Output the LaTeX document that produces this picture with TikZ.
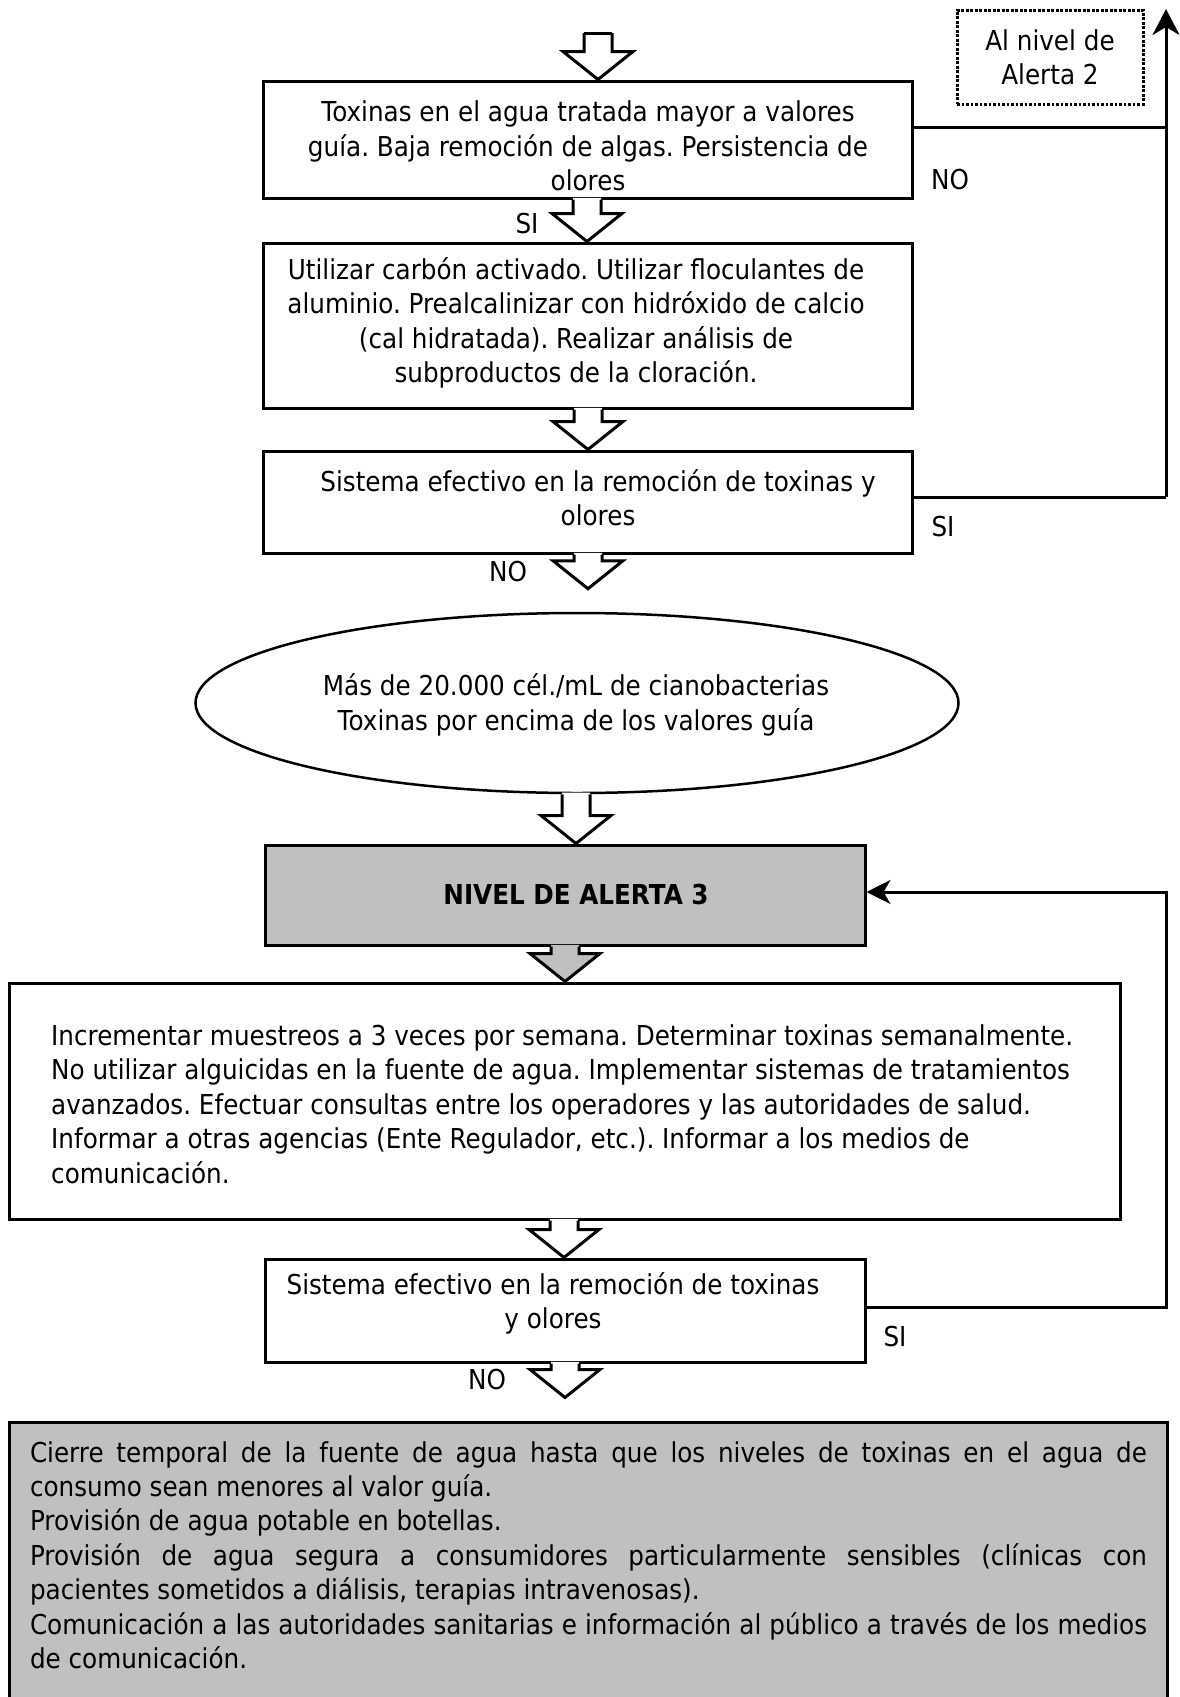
\documentclass[tikz,border=0pt]{standalone}
\usepackage{fontspec}
\setmainfont{DejaVu Sans}[FakeStretch=0.9]
\usetikzlibrary{shapes.geometric,arrows.meta,calc}
\definecolor{boxgray}{RGB}{192,192,192}
\frenchspacing
\tikzset{
  box/.style={draw, line width=3pt, inner sep=0pt},
  txt/.style={font=\fontsize{27.4pt}{34.4pt}\selectfont\frenchspacing, align=center, inner sep=0pt},
  barrow/.style={draw, line width=3pt, line join=miter},
  conn/.style={draw, line width=3pt},
  tip/.style={-{Stealth[length=26pt,width=27pt,inset=8pt]}},
}
\newcommand\blockarrow[4][white]{%
  \fill[#1] let \p1=(#2), \p2=(#3) in
    ({#4pt-14pt},\y1+1.6pt) -- ({#4pt-14pt},\y2+28pt) -- ({#4pt-35pt},\y2+28pt) -- ({#4pt},\y2)
    -- ({#4pt+35pt},\y2+28pt) -- ({#4pt+14pt},\y2+28pt) -- ({#4pt+14pt},\y1+1.6pt) -- cycle;
  \draw[barrow] let \p1=(#2), \p2=(#3) in
    ({#4pt-14pt},\y1) -- ({#4pt-14pt},\y2+28pt) -- ({#4pt-35pt},\y2+28pt) -- ({#4pt},\y2)
    -- ({#4pt+35pt},\y2+28pt) -- ({#4pt+14pt},\y2+28pt) -- ({#4pt+14pt},\y1);
}
\begin{document}
\begin{tikzpicture}[x=1pt,y=-1pt]
\useasboundingbox (0,0) rectangle (1179,1697);
\clip (0,0) rectangle (1179,1697);
\fill[white] (0,0) rectangle (1179,1697);

% boxes
\node[box, minimum width=649pt, minimum height=117pt] (b1) at (587.5,139.5) {};
\node[box, minimum width=649pt, minimum height=165pt] (b2) at (587.5,325.5) {};
\node[box, minimum width=649pt, minimum height=102pt] (b3) at (587.5,502) {};
\node[ellipse, draw, line width=2.5pt, minimum width=763pt, minimum height=180pt, inner sep=0pt] (ell) at (577,703) {};
\node[box, fill=boxgray, minimum width=600pt, minimum height=100pt] (niv) at (565,895) {};
\node[box, minimum width=1111pt, minimum height=236pt] (big) at (564.5,1101) {};
\node[box, minimum width=600pt, minimum height=103pt] (b5) at (565,1310.5) {};
\node[box, fill=boxgray, minimum width=1158pt, minimum height=300pt] (fin) at (588,1572) {};
\node[draw, line width=3pt, dash pattern=on 2.7pt off 1.8pt, minimum width=186pt, minimum height=94pt, txt] (alt) at (1050,57) {Al nivel de\\Alerta 2};

% texts
\node[txt] (t1) at (588,146) {Toxinas en el agua tratada mayor a valores\\guía. Baja remoción de algas. Persistencia de\\olores};
\node[txt] (t2) at (576,323) {Utilizar carbón activado. Utilizar floculantes de\\aluminio. Prealcalinizar con hidróxido de calcio\\(cal hidratada). Realizar análisis de\\subproductos de la cloración.};
\node[txt] (t3) at (598,497.5) {Sistema efectivo en la remoción de toxinas y\\olores};
\node[txt] (te) at (576,705) {Más de 20.000 cél./mL de cianobacterias\\Toxinas por encima de los valores guía};
\node[txt, font=\fontsize{27.4pt}{34.4pt}\selectfont\bfseries] (tn) at (576,895) {NIVEL DE ALERTA 3};
\node[txt, align=left, anchor=west] (tb) at (51,1104) {Incrementar muestreos a 3 veces por semana. Determinar toxinas semanalmente.\\No utilizar alguicidas en la fuente de agua. Implementar sistemas de tratamientos\\avanzados. Efectuar consultas entre los operadores y las autoridades de salud.\\Informar a otras agencias (Ente Regulador, etc.). Informar a los medios de\\comunicación.};
\node[txt] (t5) at (553,1303.5) {Sistema efectivo en la remoción de toxinas\\y olores};
\node[txt, align=justify, text width=1117pt] (tf) at (588.5,1555) {Cierre temporal de la fuente de agua hasta que los niveles de toxinas en el agua de\linebreak consumo sean menores al valor guía.\\Provisión de agua potable en botellas.\\Provisión de agua segura a consumidores particularmente sensibles (clínicas con\linebreak pacientes sometidos a diálisis, terapias intravenosas).\\Comunicación a las autoridades sanitarias e información al público a través de los medios\linebreak de comunicación.};

% labels
\node[txt] (no1) at (950,180) {NO};
\node[txt] (si2) at (527,224) {SI};
\node[txt] (si3) at (943,527) {SI};
\node[txt] (no4) at (508,572) {NO};
\node[txt] (si5) at (895,1337) {SI};
\node[txt] (no8) at (487,1380) {NO};

% block arrows
\coordinate (a0) at (598,33);
\blockarrow{a0}{b1.north}{598}
\draw[barrow] ([xshift=-14pt]a0) -- ([xshift=14pt]a0);
\blockarrow{b1.south}{b2.north}{587}
\blockarrow{b2.south}{b3.north}{588}
\blockarrow{b3.south}{$(ell.north)+(0,-23)$}{588}
\blockarrow{ell.south}{niv.north}{576}
\blockarrow[boxgray]{niv.south}{big.north}{565}
\blockarrow{big.south}{b5.north}{564}
\blockarrow{b5.south}{$(fin.north)+(0,-23)$}{565}

% connectors
\coordinate (topR) at (1166,9);
\coordinate (botR) at (1166,892);
\draw[conn] ([yshift=5pt]b3.east) -- ([yshift=5pt]b3.east -| topR);
\draw[conn, tip] ([yshift=5pt]b3.east -| topR) -- (topR);
\draw[conn] ([yshift=12.5pt]b1.east) -- ([yshift=12.5pt]b1.east -| topR);
\draw[conn, -{Stealth[length=24pt,width=24pt,inset=7pt]}] ([yshift=3.5pt]b5.east) -| (botR) -- (niv.east |- botR);
\end{tikzpicture}
\end{document}
